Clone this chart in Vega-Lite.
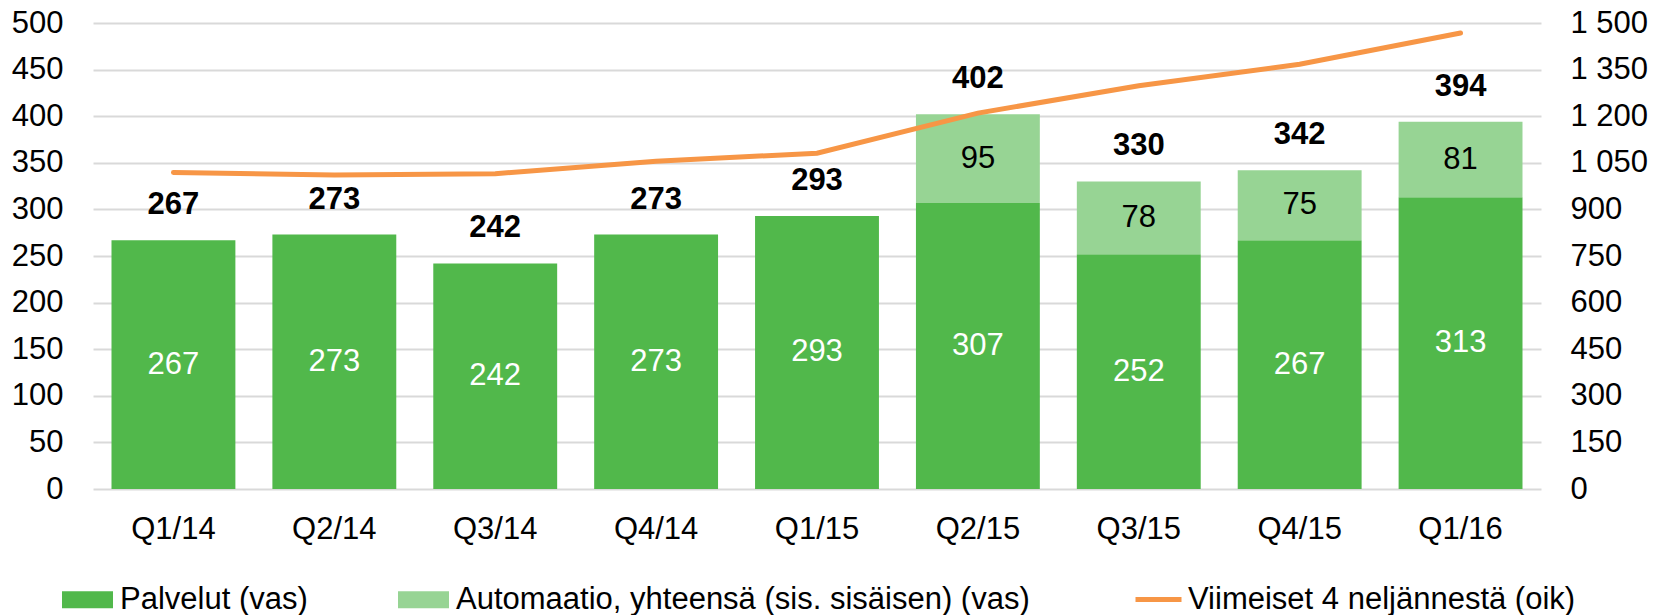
{
  "$schema": "https://vega.github.io/schema/vega-lite/v6.json",
  "width": 1448,
  "height": 466,
  "autosize": {"type": "none"},
  "padding": {"left": 93, "top": 23, "right": 120, "bottom": 126},
  "background": "white",
  "config": {
    "view": {"stroke": null},
    "font": "Liberation Sans",
    "axis": {"labelFont": "Liberation Sans", "labelFontSize": 31, "labelColor": "#000000", "domain": false, "ticks": false, "title": null},
    "legend": {"labelFont": "Liberation Sans", "labelFontSize": 31, "labelColor": "#000000", "padding": 0, "labelLimit": 0}
  },
  "datasets": {
    "bars": [
      {"quarter": "Q1/14", "series": "Palvelut (vas)", "value": 267},
      {"quarter": "Q2/14", "series": "Palvelut (vas)", "value": 273},
      {"quarter": "Q3/14", "series": "Palvelut (vas)", "value": 242},
      {"quarter": "Q4/14", "series": "Palvelut (vas)", "value": 273},
      {"quarter": "Q1/15", "series": "Palvelut (vas)", "value": 293},
      {"quarter": "Q2/15", "series": "Palvelut (vas)", "value": 307},
      {"quarter": "Q3/15", "series": "Palvelut (vas)", "value": 252},
      {"quarter": "Q4/15", "series": "Palvelut (vas)", "value": 267},
      {"quarter": "Q1/16", "series": "Palvelut (vas)", "value": 313},
      {"quarter": "Q2/15", "series": "Automaatio, yhteensä (sis. sisäisen) (vas)", "value": 95},
      {"quarter": "Q3/15", "series": "Automaatio, yhteensä (sis. sisäisen) (vas)", "value": 78},
      {"quarter": "Q4/15", "series": "Automaatio, yhteensä (sis. sisäisen) (vas)", "value": 75},
      {"quarter": "Q1/16", "series": "Automaatio, yhteensä (sis. sisäisen) (vas)", "value": 81}
    ],
    "totals": [
      {"quarter": "Q1/14", "total": 267, "rolling": 1019},
      {"quarter": "Q2/14", "total": 273, "rolling": 1011},
      {"quarter": "Q3/14", "total": 242, "rolling": 1015},
      {"quarter": "Q4/14", "total": 273, "rolling": 1055},
      {"quarter": "Q1/15", "total": 293, "rolling": 1081},
      {"quarter": "Q2/15", "total": 402, "rolling": 1210},
      {"quarter": "Q3/15", "total": 330, "rolling": 1298},
      {"quarter": "Q4/15", "total": 342, "rolling": 1367},
      {"quarter": "Q1/16", "total": 394, "rolling": 1468}
    ]
  },
  "encoding": {
    "x": {
      "field": "quarter", "type": "nominal", "sort": null,
      "scale": {"paddingInner": 0.23, "paddingOuter": 0.115},
      "axis": {"labelAngle": 0, "labelPadding": 25, "labelBaseline": "top"}
    }
  },
  "layer": [
    {
      "layer": [
        {
          "data": {"name": "bars"},
          "transform": [
            {"stack": "value", "groupby": ["quarter"], "sort": [{"field": "series", "order": "descending"}], "as": ["v0", "v1"]}
          ],
          "mark": {"type": "bar"},
          "encoding": {
            "y": {"field": "v1", "type": "quantitative",
              "scale": {"domain": [0, 500], "nice": false},
              "axis": {"orient": "left", "values": [0, 50, 100, 150, 200, 250, 300, 350, 400, 450, 500], "grid": true, "gridColor": "#d9d9d9", "gridWidth": 2, "labelPadding": 30}},
            "y2": {"field": "v0"},
            "fill": {"field": "series", "type": "nominal",
              "scale": {"domain": ["Palvelut (vas)", "Automaatio, yhteensä (sis. sisäisen) (vas)"], "range": ["#51b84b", "#97d494"]},
              "legend": {"orient": "none", "legendX": -31, "legendY": 551, "direction": "horizontal", "title": null,
                "symbolType": "M-1,-0.333H1V0.333H-1Z", "symbolSize": 2601, "symbolStrokeWidth": 0, "symbolOpacity": 1,
                "labelOffset": 7, "columnPadding": 90}}
          }
        },
        {
          "data": {"name": "bars"},
          "transform": [
            {"stack": "value", "groupby": ["quarter"], "sort": [{"field": "series", "order": "descending"}], "as": ["v0", "v1"]},
            {"fold": ["v0", "v1"], "as": ["edge", "pos"]}
          ],
          "mark": {"type": "text", "fontSize": 31, "font": "Liberation Sans", "baseline": "middle", "align": "center"},
          "encoding": {
            "y": {"aggregate": "mean", "field": "pos", "type": "quantitative"},
            "detail": {"field": "series"},
            "text": {"field": "value", "type": "quantitative"},
            "color": {"condition": {"test": "datum.series == 'Palvelut (vas)'", "value": "#ffffff"}, "value": "#000000"}
          }
        },
        {
          "data": {"name": "totals"},
          "mark": {"type": "text", "fontSize": 31, "fontWeight": "bold", "font": "Liberation Sans", "baseline": "middle", "align": "center", "dy": -35, "color": "#000000"},
          "encoding": {
            "y": {"field": "total", "type": "quantitative"},
            "text": {"field": "total", "type": "quantitative"}
          }
        }
      ]
    },
    {
      "data": {"name": "totals"},
      "mark": {"type": "line", "strokeWidth": 5, "strokeCap": "round"},
      "encoding": {
        "y": {"field": "rolling", "type": "quantitative",
          "scale": {"domain": [0, 1500], "nice": false},
          "axis": {"orient": "right", "values": [0, 150, 300, 450, 600, 750, 900, 1050, 1200, 1350, 1500], "grid": false, "labelPadding": 29,
            "labelExpr": "replace(format(datum.value, ','), ',', ' ')"}},
        "stroke": {"datum": "Viimeiset 4 neljännestä (oik)", "type": "nominal",
          "scale": {"range": ["#f79646"]},
          "legend": {"orient": "none", "legendX": 1040, "legendY": 551, "title": null, "symbolType": "stroke", "symbolSize": 2116, "symbolStrokeWidth": 5, "labelOffset": 4}}
      }
    }
  ],
  "resolve": {"scale": {"y": "independent"}}
}
